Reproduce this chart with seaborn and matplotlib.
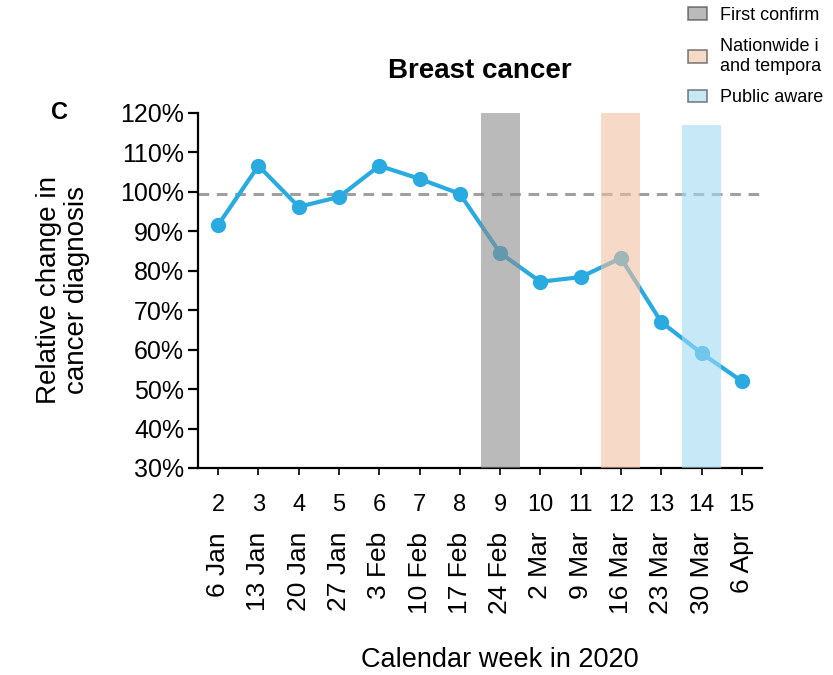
import matplotlib
matplotlib.use("Agg")
import matplotlib.pyplot as plt
import matplotlib.transforms as mtransforms
from matplotlib.patches import Patch
import seaborn as sns

# Data
weeks = [2, 3, 4, 5, 6, 7, 8, 9, 10, 11, 12, 13, 14, 15]
week_dates = ["6 Jan", "13 Jan", "20 Jan", "27 Jan", "3 Feb", "10 Feb", "17 Feb",
              "24 Feb", "2 Mar", "9 Mar", "16 Mar", "23 Mar", "30 Mar", "6 Apr"]
relative_change = [91.6, 106.6, 96.2, 98.7, 106.6, 103.3, 99.5,
                   84.5, 77.2, 78.4, 83.2, 67.0, 59.1, 52.0]
baseline = 99.5

event_weeks = [9, 12, 14]
event_tops = [120, 120, 117]
event_colors = ["#8c8c8c", "#f0c0a0", "#a0d9f3"]
# legend text as far as it is visible in the source (cut at the right edge)
event_labels = ["First confirm",
                "Nationwide i\nand tempora",
                "Public aware"]

sns.set_style("white")
plt.rcParams["font.family"] = ["Liberation Sans", "DejaVu Sans"]
plt.rcParams["text.color"] = "black"
plt.rcParams["axes.labelcolor"] = "black"
plt.rcParams["xtick.color"] = "black"
plt.rcParams["ytick.color"] = "black"

fig = plt.figure(figsize=(8.33, 6.75), dpi=100)
ax = fig.add_axes([0.2377, 0.3067, 0.677, 0.526])

# line with markers
sns.lineplot(x=weeks, y=relative_change, ax=ax, color="#29abe2", linewidth=3,
             marker="o", markersize=11, markeredgewidth=0, zorder=2)

# baseline
ax.axhline(baseline, color="#a0a0a0", linestyle=(0, (3.5, 2.5)), linewidth=2.2,
           zorder=1, clip_on=False)

# event bars, drawn on top with transparency
ymin = 30
ax.bar(event_weeks, [t - ymin for t in event_tops], bottom=ymin, width=0.97,
       color=event_colors, alpha=0.6, linewidth=0, zorder=3)

ax.set_xlim(1.5, 15.5)
ax.set_ylim(30, 120)
ax.set_yticks(range(30, 121, 10))
ax.set_yticklabels([f"{v}%" for v in range(30, 121, 10)], fontsize=18)
ax.set_xticks(weeks)
ax.set_xticklabels([str(w) for w in weeks], fontsize=17)

sns.despine(ax=ax)
for s in ["left", "bottom"]:
    ax.spines[s].set_color("black")
    ax.spines[s].set_linewidth(1.6)
ax.tick_params(axis="y", direction="out", length=7, width=1.6, pad=3, left=True)
ax.tick_params(axis="x", direction="out", length=5, width=1.2, pad=14, bottom=True)

# second row of x labels: dates
trans = mtransforms.blended_transform_factory(ax.transData, ax.transAxes)
for w, d in zip(weeks, week_dates):
    ax.text(w, -0.18, d, transform=trans, rotation=90, ha="center", va="top",
            fontsize=19)

ax.set_ylabel("Relative change in\ncancer diagnosis", fontsize=20, labelpad=22,
              linespacing=1.1)
fig.text(0.6, 0.003, "Calendar week in 2020", ha="center", va="bottom", fontsize=19.5)

ax.set_title("Breast cancer", fontsize=20, fontweight="bold", pad=25)
fig.text(0.072, 0.833, "C", fontsize=17, fontweight="bold", va="center", ha="center")

handles = [Patch(facecolor=c, alpha=0.6, edgecolor="#333333", linewidth=1.2)
           for c in event_colors]
fig.legend(handles, event_labels, loc="upper left", bbox_to_anchor=(688 / 833, 0.99),
           frameon=False, fontsize=13, handlelength=1.05, handleheight=0.7,
           labelspacing=0.8, handletextpad=0.7, borderpad=0, borderaxespad=0)

fig.savefig("out.png", dpi=100)
